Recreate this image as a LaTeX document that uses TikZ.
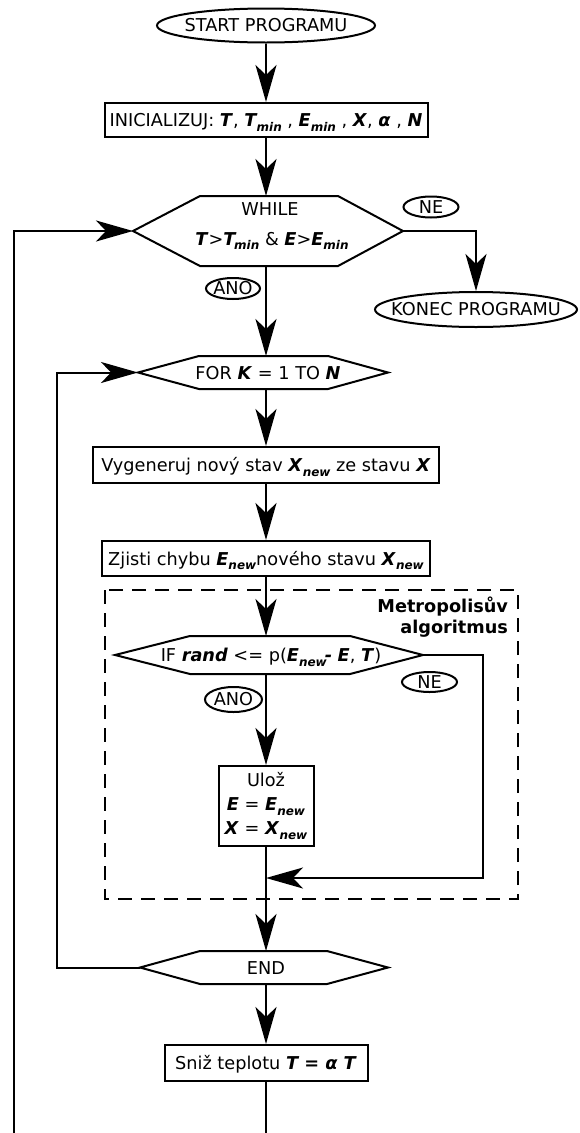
\documentclass[tikz,border=0pt]{standalone}
\usepackage{fontspec}
\setmainfont{DejaVu Sans}
\usetikzlibrary{arrows.meta,shapes.geometric}

% bold oblique variables and their subscripts
\newcommand\bv[1]{\textbf{\textit{#1}}}
\newcommand\bsub[1]{\raisebox{-4.5pt}{\fontsize{12}{12}\selectfont\bfseries\itshape #1}}
% text set without size, so an ellipse keeps its own dimensions
\newcommand\ovaltext[1]{\smash{\makebox[0pt]{\raisebox{-6.4pt}{#1}}}}

\begin{document}
\begin{tikzpicture}[x=1pt, y=-1pt, line width=2pt,
  txt/.style={font=\fontsize{17.7}{21}\selectfont, inner sep=0pt},
  oneline/.style={txt, text height=17pt, text depth=4pt},
  terminal/.style={txt, draw, ellipse},
  procbox/.style={oneline, draw, inner xsep=2pt},
  arr/.style={-{Stealth[length=37pt, width=21pt, inset=10pt]}},
  frame/.style={dash pattern=on 14pt off 9pt},
  heading/.style={inner sep=0pt, font=\fontsize{17.7}{21}\selectfont\bfseries, anchor=base east},
]
\useasboundingbox (0,0) rectangle (580,1133);

% --- start and initialisation ---
\node[terminal, minimum width=218pt, minimum height=34pt] (start) at (266,25.5) {\ovaltext{START PROGRAMU}};
\node[procbox, minimum width=323pt, minimum height=34pt] (init) at (266,120)
  {INICIALIZUJ: \bv{T}, \bv{T}\kern-1pt\bsub{min} , \bv{E}\bsub{min} , \bv{X}, \bv{α} , \bv{N}};

% --- WHILE loop header ---
\coordinate (while-w) at (133,231);
\coordinate (while-e) at (403,231);
\coordinate (while-n) at (266,196);
\coordinate (while-s) at (266,266);
\draw (while-w) -- (200,196) -- (338,196) -- (while-e) -- (338,266) -- (200,266) -- cycle;
\node[txt, anchor=base] (while) at (270,215) {WHILE};
\node[txt, anchor=base] (whilecond) at (272,245)
  {\bv{T}>\bv{T}\kern-2.5pt\bsub{min} \& \bv{E}>\bv{E}\bsub{min}};

\node[terminal, minimum width=55pt, minimum height=21pt] (ne1) at (431,207) {\ovaltext{NE}};
\node[terminal, minimum width=202pt, minimum height=35pt] (konec) at (476,309.5) {\ovaltext{KONEC PROGRAMU}};
\node[terminal, minimum width=54pt, minimum height=21pt] (ano1) at (233,288.5) {\ovaltext{ANO}};

% --- FOR loop header ---
\coordinate (for-w) at (138,372.5);
\coordinate (for-e) at (388,372.5);
\coordinate (for-n) at (266,356);
\coordinate (for-s) at (266,389);
\draw (for-w) -- (199,356) -- (328,356) -- (for-e) -- (328,389) -- (199,389) -- cycle;
\node[oneline] (for) at (268,372.5) {FOR \bv{K} = 1 TO \bv{N}};

\node[procbox, minimum width=346pt, minimum height=36pt] (gen) at (266,465)
  {Vygeneruj nový stav \bv{X}\bsub{new} ze stavu \bv{X}};
\node[procbox, minimum width=328pt, minimum height=35pt] (err) at (266,558.5)
  {Zjisti chybu \bv{E}\bsub{new}nového stavu \bv{X}\bsub{new}};

% --- Metropolis step ---
\draw[frame] (105,590) rectangle (518,899);
\node[heading] (metro1) at (509,612) {Metropolisův};
\node[heading] (metro2) at (509,633) {algoritmus};

\coordinate (if-w) at (115,655);
\coordinate (if-e) at (423,655);
\coordinate (if-n) at (266,636);
\coordinate (if-s) at (266,674);
\draw (if-w) -- (190,636) -- (350,636) -- (if-e) -- (350,674) -- (190,674) -- cycle;
\node[oneline] (if) at (271,655)
  {IF \bv{rand} <= p(\bv{E}\bsub{new}\kern-2pt\bv{-} \bv{E}, \bv{T})};

\node[terminal, minimum width=55pt, minimum height=20pt] (ne2) at (429.5,682) {\ovaltext{NE}};
\node[terminal, minimum width=57pt, minimum height=25pt] (ano2) at (233.5,699.5) {\ovaltext{ANO}};

\node[txt, draw, minimum width=95pt, minimum height=80pt, align=center,
      font=\fontsize{17.7}{24}\selectfont] (uloz) at (266,806)
  {Ulož\\ \bv{E} = \bv{E}\bsub{new}\\ \bv{X} = \bv{X}\bsub{new}};

\coordinate (if-turn) at (483,655);
\coordinate (merge) at (266,878);

% --- END of FOR loop ---
\coordinate (end-w) at (140,967.5);
\coordinate (end-e) at (388,967.5);
\coordinate (end-n) at (266,951);
\coordinate (end-s) at (266,984);
\draw (end-w) -- (200,951) -- (327,951) -- (end-e) -- (327,984) -- (200,984) -- cycle;
\node[oneline] (end) at (266,967.5) {END};

\node[procbox, minimum width=203pt, minimum height=36pt] (cool) at (266,1063)
  {Sniž teplotu \bv{T = α T}};

\coordinate (loop-corner) at (57,967.5);
\coordinate (main-foot) at (266,1133);
\coordinate (outer-foot) at (14,1133);

% --- connectors ---
\draw[arr] (start.south) -- (init.north);
\draw[arr] (init.south) -- (while-n);
\draw[arr] (while-e) -| (konec.north);
\draw[arr] (while-s) -- (for-n);
\draw[arr] (for-s) -- (gen.north);
\draw[arr] (gen.south) -- (err.north);
\draw[arr] (err.south) -- (if-n);
\draw[arr] (if-s) -- (uloz.north);
\draw[arr] (if-e) -- (if-turn) |- (merge);
\draw[arr] (uloz.south) -- (end-n);
\draw[arr] (end-s) -- (cool.north);
\draw (cool.south) -- (main-foot);
\draw[arr] (end-w) -- (loop-corner) |- (for-w);
\draw[arr] (outer-foot) |- (while-w);
\end{tikzpicture}
\end{document}
